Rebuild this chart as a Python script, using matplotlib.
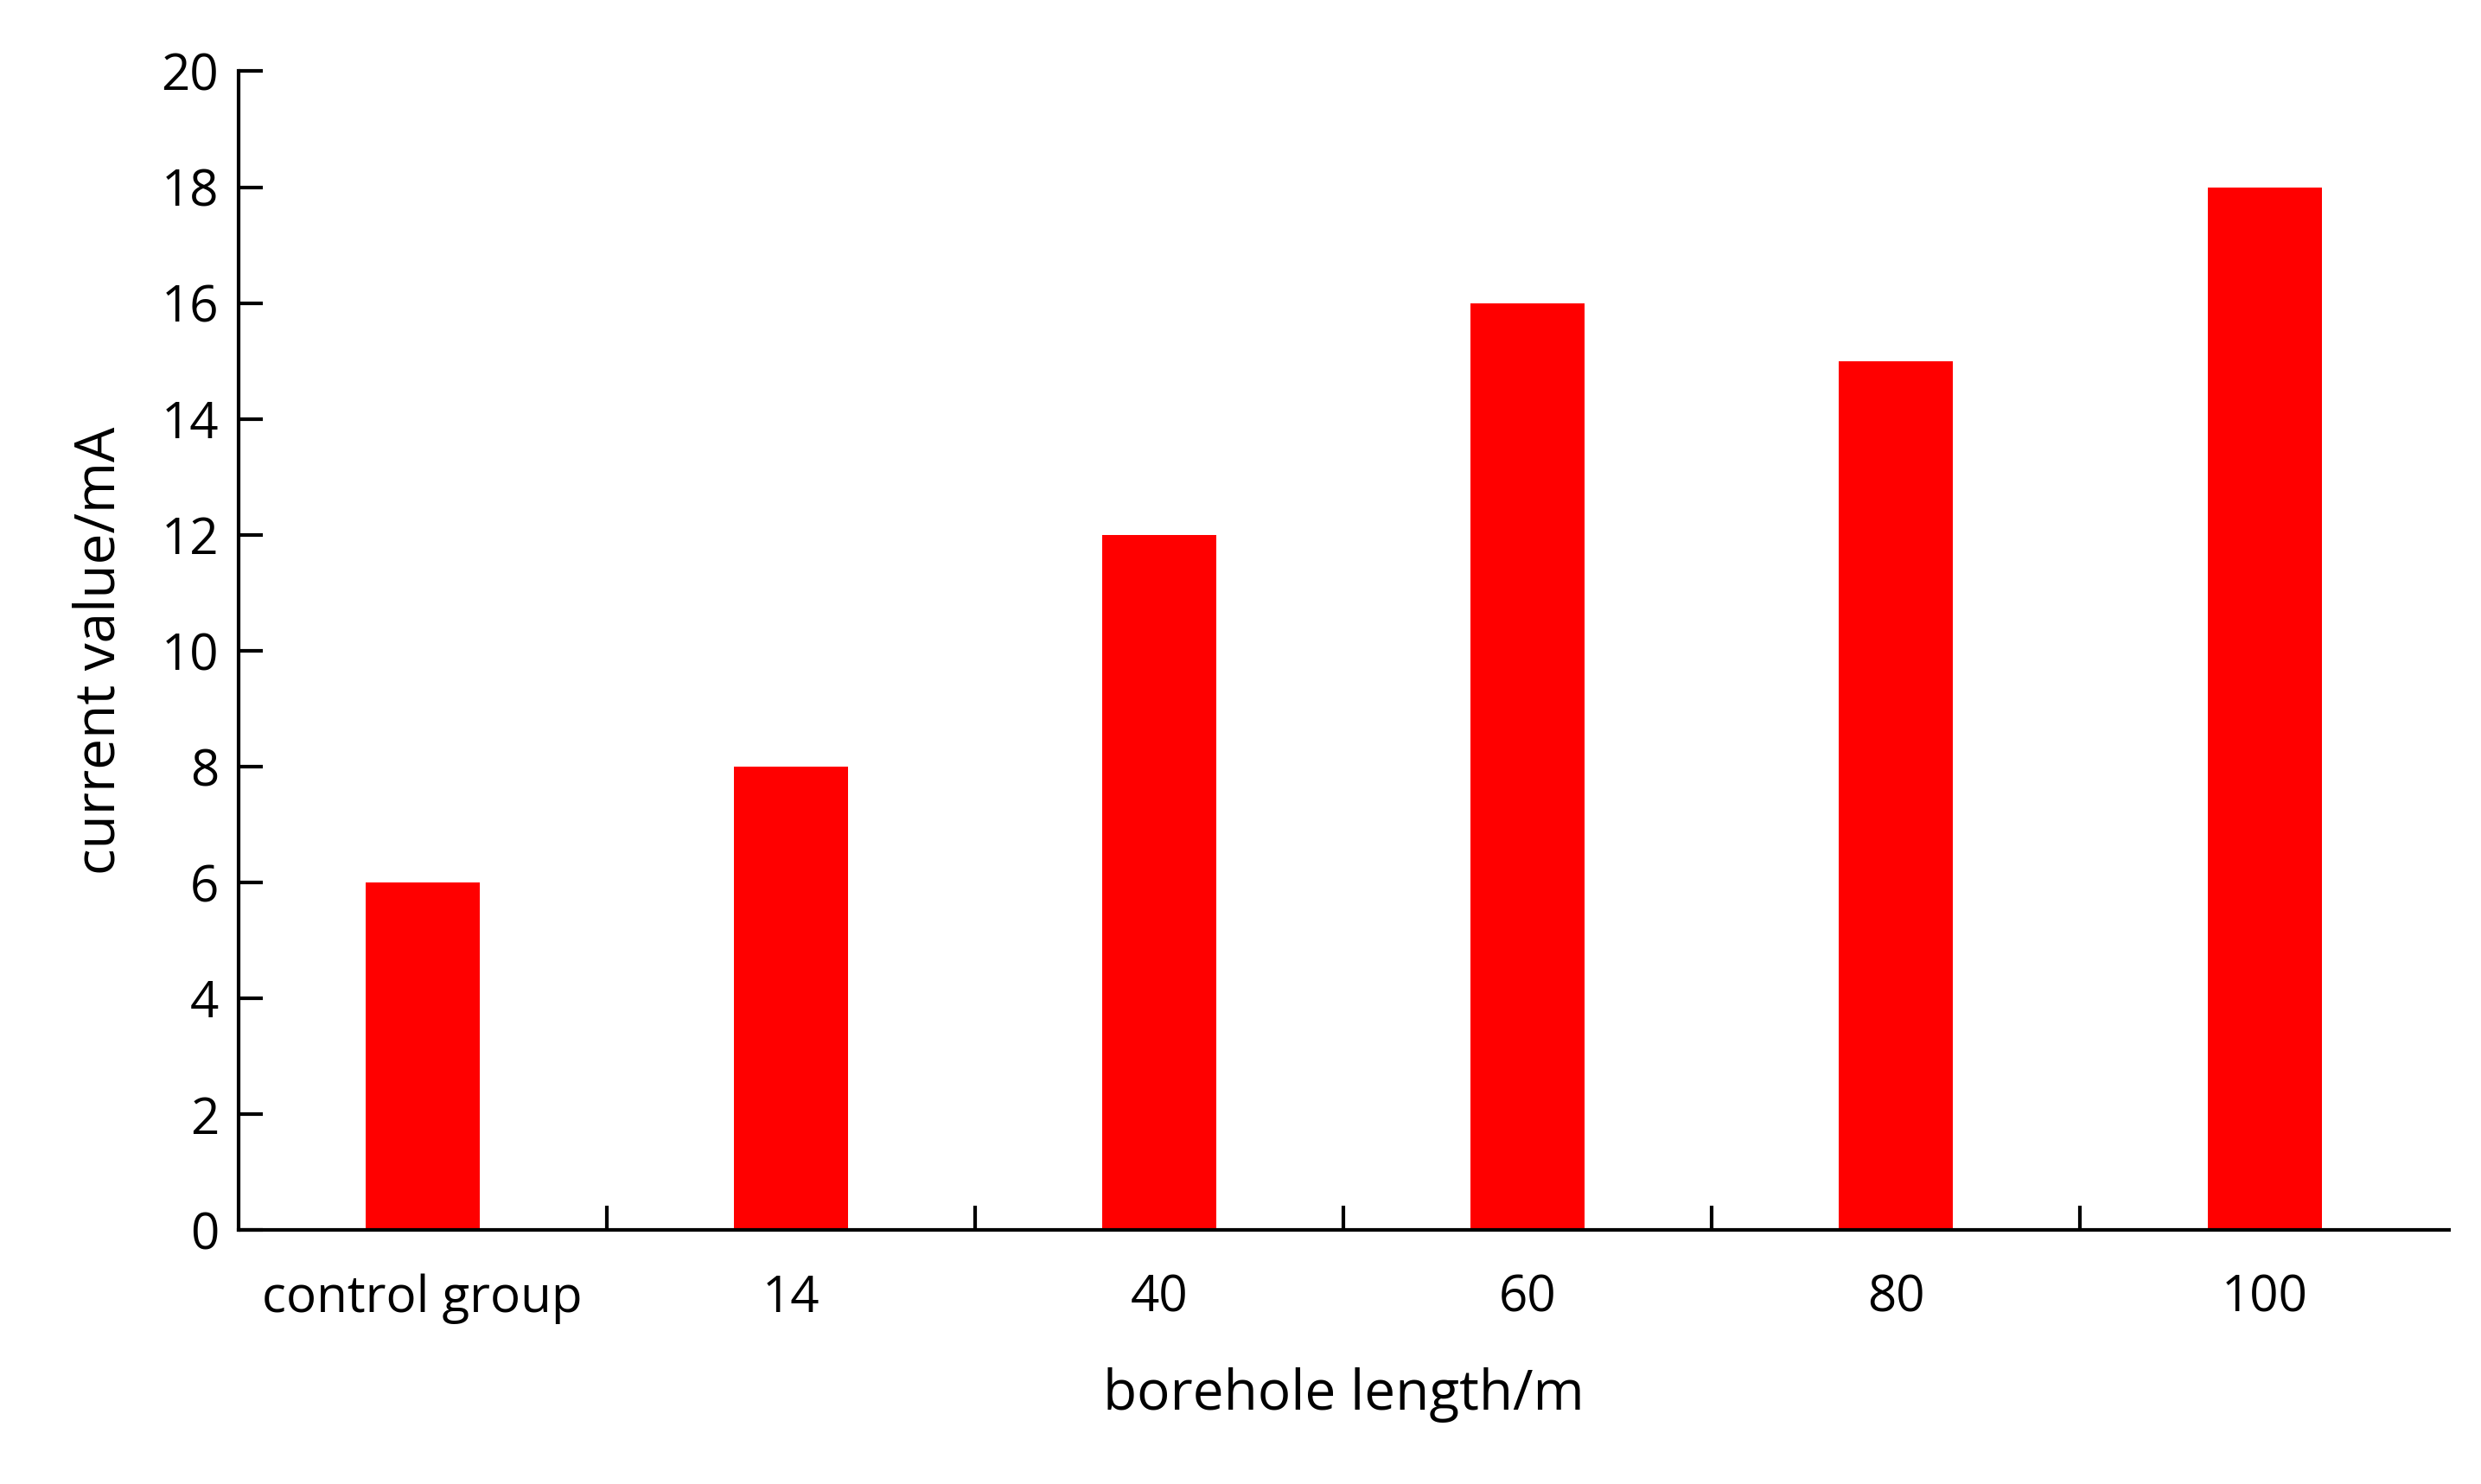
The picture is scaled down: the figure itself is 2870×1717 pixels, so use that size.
import numpy as np
import matplotlib.pyplot as plt

categories = ["control group", "14", "40", "60", "80", "100"]
current_ma = [6, 8, 12, 16, 15, 18]

plt.rcParams["font.family"] = ["Open Sans", "DejaVu Sans"]

fig = plt.figure(figsize=(14.35, 8.585), dpi=200)
ax = fig.add_axes([0.096, 0.171, 0.891, 0.781])

x = np.arange(len(categories))
ax.bar(x, current_ma, width=0.31, color="#ff0000")

ax.set_xlim(-0.5, len(categories) - 0.5)
ax.set_ylim(0, 20)
ax.set_yticks(range(0, 21, 2))
ax.set_xticks(x)
ax.set_xticklabels(categories)
ax.set_xticks(np.arange(0.5, len(categories) - 0.5, 1), minor=True)
ax.tick_params(axis="x", which="major", length=0, pad=18, labelsize=21)
ax.tick_params(axis="x", which="minor", length=10, width=1.5, direction="in")
ax.tick_params(axis="y", length=10, width=1.5, direction="in", labelsize=21, pad=8)

for s in ["top", "right"]:
    ax.spines[s].set_visible(False)
for s in ["left", "bottom"]:
    ax.spines[s].set_linewidth(1.5)

ax.set_xlabel("borehole length/m", fontsize=23, labelpad=18)
ax.set_ylabel("current value/mA", fontsize=23, labelpad=14)

fig.savefig("out.png", dpi=200)
